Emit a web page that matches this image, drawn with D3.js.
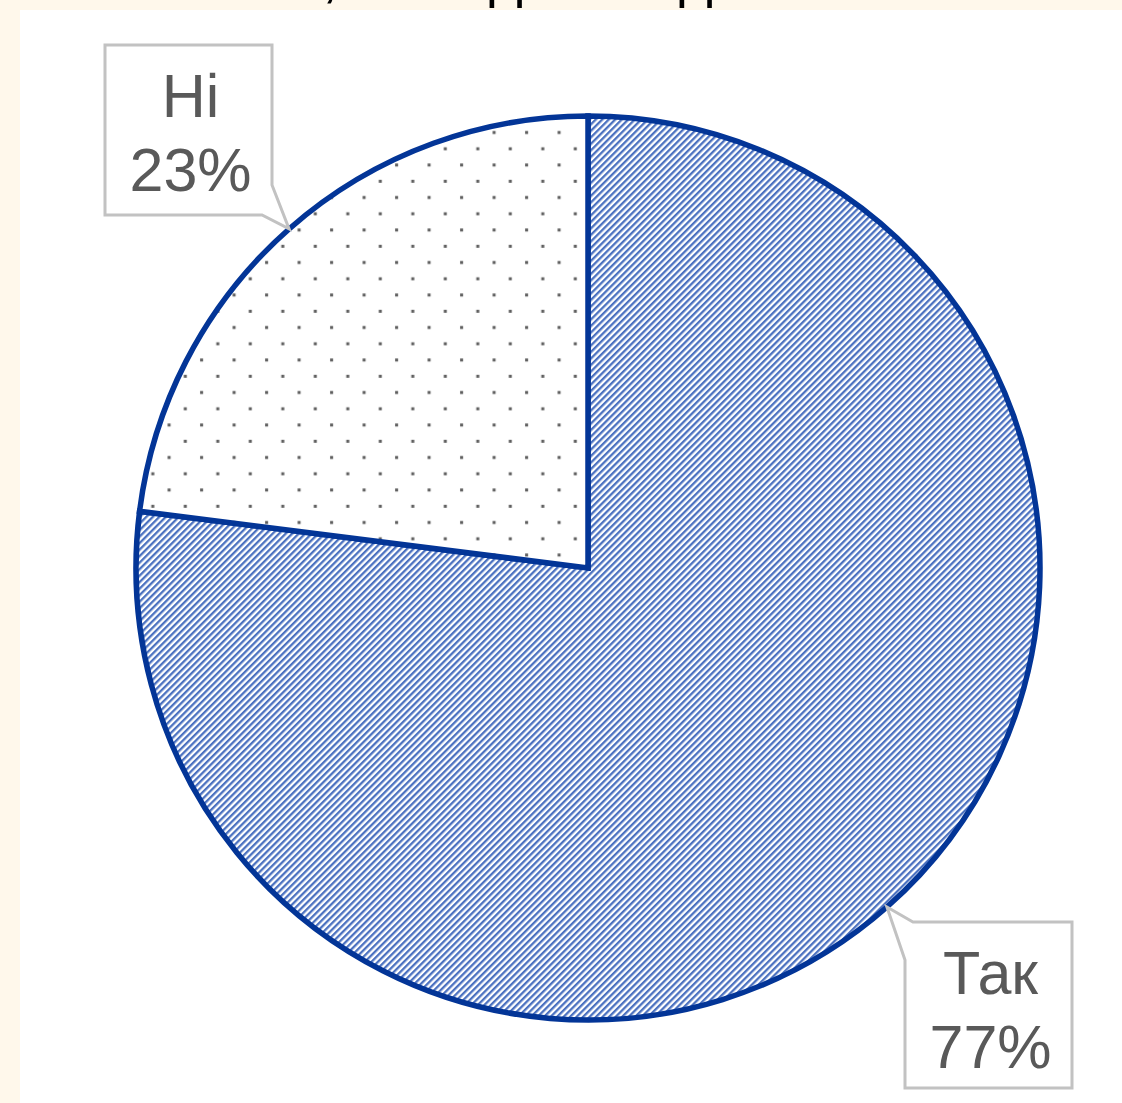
<!DOCTYPE html>
<html>
<head>
<meta charset="utf-8">
<script src="https://cdn.jsdelivr.net/npm/d3@7"></script>
<style>
  html, body { margin: 0; padding: 0; background: #fff8eb; }
  svg { display: block; }
</style>
</head>
<body>
<svg id="chart" width="1122" height="1103"></svg>
<script>
// ---- data ----
const categories = ["Так", "Ні"];
const values = [77, 23];
const percentLabels = ["77%", "23%"];
const patterns = ["hatch", "dots"];

// ---- layout ----
const W = 1122, H = 1103;
const cx = 588, cy = 568, R = 452;
// label boxes: [x0, y0, x1, y1]
const boxes = {
  "Так": [905, 922, 1072, 1088],
  "Ні": [105, 45, 272, 215]
};

const svg = d3.select("#chart");

// backgrounds
svg.append("rect").attr("x", 0).attr("y", 0).attr("width", W).attr("height", H).attr("fill", "#fff8eb");
svg.append("rect").attr("x", 20).attr("y", 10).attr("width", W - 20).attr("height", H - 10).attr("fill", "#ffffff");

// title fragments (title is cut off at the top edge in the reference; only descenders visible)
const title = svg.append("text")
  .attr("y", -4)
  .attr("font-family", "Liberation Sans, Arial, sans-serif")
  .attr("font-size", 58)
  .attr("fill", "#000");
title.append("tspan").attr("x", 322).text(",");
title.append("tspan").attr("x", 489).text("д");
title.append("tspan").attr("x", 679).text("д");

// patterns
const defs = svg.append("defs");
const hatch = defs.append("pattern")
  .attr("id", "hatch")
  .attr("patternUnits", "userSpaceOnUse")
  .attr("width", 4.6).attr("height", 10)
  .attr("patternTransform", "rotate(45)");
hatch.append("rect").attr("width", 4.6).attr("height", 10).attr("fill", "#ffffff");
hatch.append("rect").attr("x", 0).attr("width", 2.3).attr("height", 10).attr("fill", "#4b71c0");

const dots = defs.append("pattern")
  .attr("id", "dots")
  .attr("patternUnits", "userSpaceOnUse")
  .attr("width", 32.5).attr("height", 32.5);
dots.append("rect").attr("width", 32.5).attr("height", 32.5).attr("fill", "#ffffff");
dots.append("rect").attr("x", 18.3).attr("y", 1.8).attr("width", 3).attr("height", 3).attr("fill", "#5e5e5e");
dots.append("rect").attr("x", 2.1).attr("y", 18).attr("width", 3).attr("height", 3).attr("fill", "#5e5e5e");

// pie
const pie = d3.pie().sort(null).value(d => d.value);
const data = categories.map((c, i) => ({ name: c, value: values[i], pct: percentLabels[i], pat: patterns[i] }));
const arcs = pie(data);
const arc = d3.arc().innerRadius(0).outerRadius(R);

const g = svg.append("g").attr("transform", `translate(${cx},${cy})`);
g.selectAll("path.slice")
  .data(arcs)
  .join("path")
  .attr("class", "slice")
  .attr("d", arc)
  .attr("fill", d => `url(#${d.data.pat})`)
  .attr("stroke", "#033597")
  .attr("stroke-width", 5.5)
  .attr("stroke-linejoin", "miter");

// callouts
const font = "Liberation Sans, Arial, sans-serif";
arcs.forEach(d => {
  const mid = (d.startAngle + d.endAngle) / 2;
  const tx = cx + R * Math.sin(mid);
  const ty = cy - R * Math.cos(mid);
  const [x0, y0, x1, y1] = boxes[d.data.name];
  let path;
  if (ty > cy) {
    path = `M${x0},${y0 + 38} L${tx},${ty} L${x0 + 8},${y0} H${x1} V${y1} H${x0} Z`;
  } else {
    path = `M${x0},${y0} H${x1} V${y1 - 30} L${tx},${ty} L${x1 - 10},${y1} H${x0} Z`;
  }
  svg.append("path")
    .attr("d", path)
    .attr("fill", "#ffffff")
    .attr("stroke", "#c2c2c2")
    .attr("stroke-width", 3)
    .attr("stroke-linejoin", "miter");
  const mx = (x0 + x1) / 2 + 2;
  svg.append("text")
    .attr("x", mx).attr("y", y0 + 72)
    .attr("text-anchor", "middle")
    .attr("font-family", font)
    .attr("font-size", 61)
    .attr("fill", "#595959")
    .text(d.data.name);
  svg.append("text")
    .attr("x", mx).attr("y", y0 + 146)
    .attr("text-anchor", "middle")
    .attr("font-family", font)
    .attr("font-size", 61)
    .attr("fill", "#595959")
    .text(d.data.pct);
});
</script>
</body>
</html>
